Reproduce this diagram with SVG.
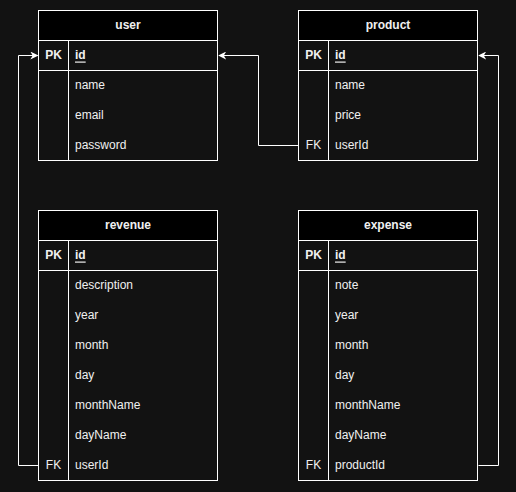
<svg xmlns="http://www.w3.org/2000/svg" width="516" height="492" viewBox="0 0 516 492">
<style>
.bg{fill:#121212}
.tbl{fill:#121212;stroke:#fff;stroke-width:1}
.hdr{fill:#000;stroke:#fff;stroke-width:1}
.ln{stroke:#fff;stroke-width:1;fill:none}
text{font-family:"Liberation Sans",Arial,sans-serif;font-size:12px;fill:#f0f0f0;dominant-baseline:central}
.h{font-weight:bold;text-anchor:middle}
.k{font-weight:bold;text-anchor:middle}
.fk{text-anchor:middle}
.pk{font-weight:bold;text-decoration:underline}
.conn{stroke:#fff;stroke-width:1;fill:none;marker-end:url(#arr)}
</style>
<defs>
<marker id="arr" viewBox="0 0 10 10" refX="9" refY="5" markerWidth="8" markerHeight="8" markerUnits="userSpaceOnUse" orient="auto">
<path d="M0,0 L10,5 L0,10 L3,5 Z" fill="#fff"/>
</marker>
</defs>
<rect class="bg" x="0" y="0" width="516" height="492"/>
<g id="connectors">
<path class="conn" d="M298.5,145.5 H258.5 V55.5 H219"/>
<path class="conn" d="M38.5,465.5 H18.5 V55.5 H37.5"/>
<path class="conn" d="M478.5,465.5 H498.5 V55.5 H479"/>
</g>
<g id="user">
<rect class="tbl" x="38.5" y="10.5" width="179" height="150"/>
<rect class="hdr" x="38.5" y="10.5" width="179" height="30"/>
<line class="ln" x1="38.5" y1="70.5" x2="217.5" y2="70.5"/>
<line class="ln" x1="68.5" y1="40.5" x2="68.5" y2="160.5"/>
<text class="h" x="128" y="24.5">user</text>
<text class="k" x="53.5" y="54.5">PK</text>
<text class="pk" x="75" y="54.5">id</text>
<text x="75" y="84.5">name</text>
<text x="75" y="114.5">email</text>
<text x="75" y="144.5">password</text>
</g>
<g id="product">
<rect class="tbl" x="298.5" y="10.5" width="179" height="150"/>
<rect class="hdr" x="298.5" y="10.5" width="179" height="30"/>
<line class="ln" x1="298.5" y1="70.5" x2="477.5" y2="70.5"/>
<line class="ln" x1="328.5" y1="40.5" x2="328.5" y2="160.5"/>
<text class="h" x="388" y="24.5">product</text>
<text class="k" x="313.5" y="54.5">PK</text>
<text class="pk" x="335" y="54.5">id</text>
<text x="335" y="84.5">name</text>
<text x="335" y="114.5">price</text>
<text class="fk" x="313.5" y="144.5">FK</text>
<text x="335" y="144.5">userId</text>
</g>
<g id="revenue">
<rect class="tbl" x="38.5" y="210.5" width="179" height="270"/>
<rect class="hdr" x="38.5" y="210.5" width="179" height="30"/>
<line class="ln" x1="38.5" y1="270.5" x2="217.5" y2="270.5"/>
<line class="ln" x1="68.5" y1="240.5" x2="68.5" y2="480.5"/>
<text class="h" x="128" y="224.5">revenue</text>
<text class="k" x="53.5" y="254.5">PK</text>
<text class="pk" x="75" y="254.5">id</text>
<text x="75" y="284.5">description</text>
<text x="75" y="314.5">year</text>
<text x="75" y="344.5">month</text>
<text x="75" y="374.5">day</text>
<text x="75" y="404.5">monthName</text>
<text x="75" y="434.5">dayName</text>
<text class="fk" x="53.5" y="464.5">FK</text>
<text x="75" y="464.5">userId</text>
</g>
<g id="expense">
<rect class="tbl" x="298.5" y="210.5" width="179" height="270"/>
<rect class="hdr" x="298.5" y="210.5" width="179" height="30"/>
<line class="ln" x1="298.5" y1="270.5" x2="477.5" y2="270.5"/>
<line class="ln" x1="328.5" y1="240.5" x2="328.5" y2="480.5"/>
<text class="h" x="388" y="224.5">expense</text>
<text class="k" x="313.5" y="254.5">PK</text>
<text class="pk" x="335" y="254.5">id</text>
<text x="335" y="284.5">note</text>
<text x="335" y="314.5">year</text>
<text x="335" y="344.5">month</text>
<text x="335" y="374.5">day</text>
<text x="335" y="404.5">monthName</text>
<text x="335" y="434.5">dayName</text>
<text class="fk" x="313.5" y="464.5">FK</text>
<text x="335" y="464.5">productId</text>
</g>
</svg>
